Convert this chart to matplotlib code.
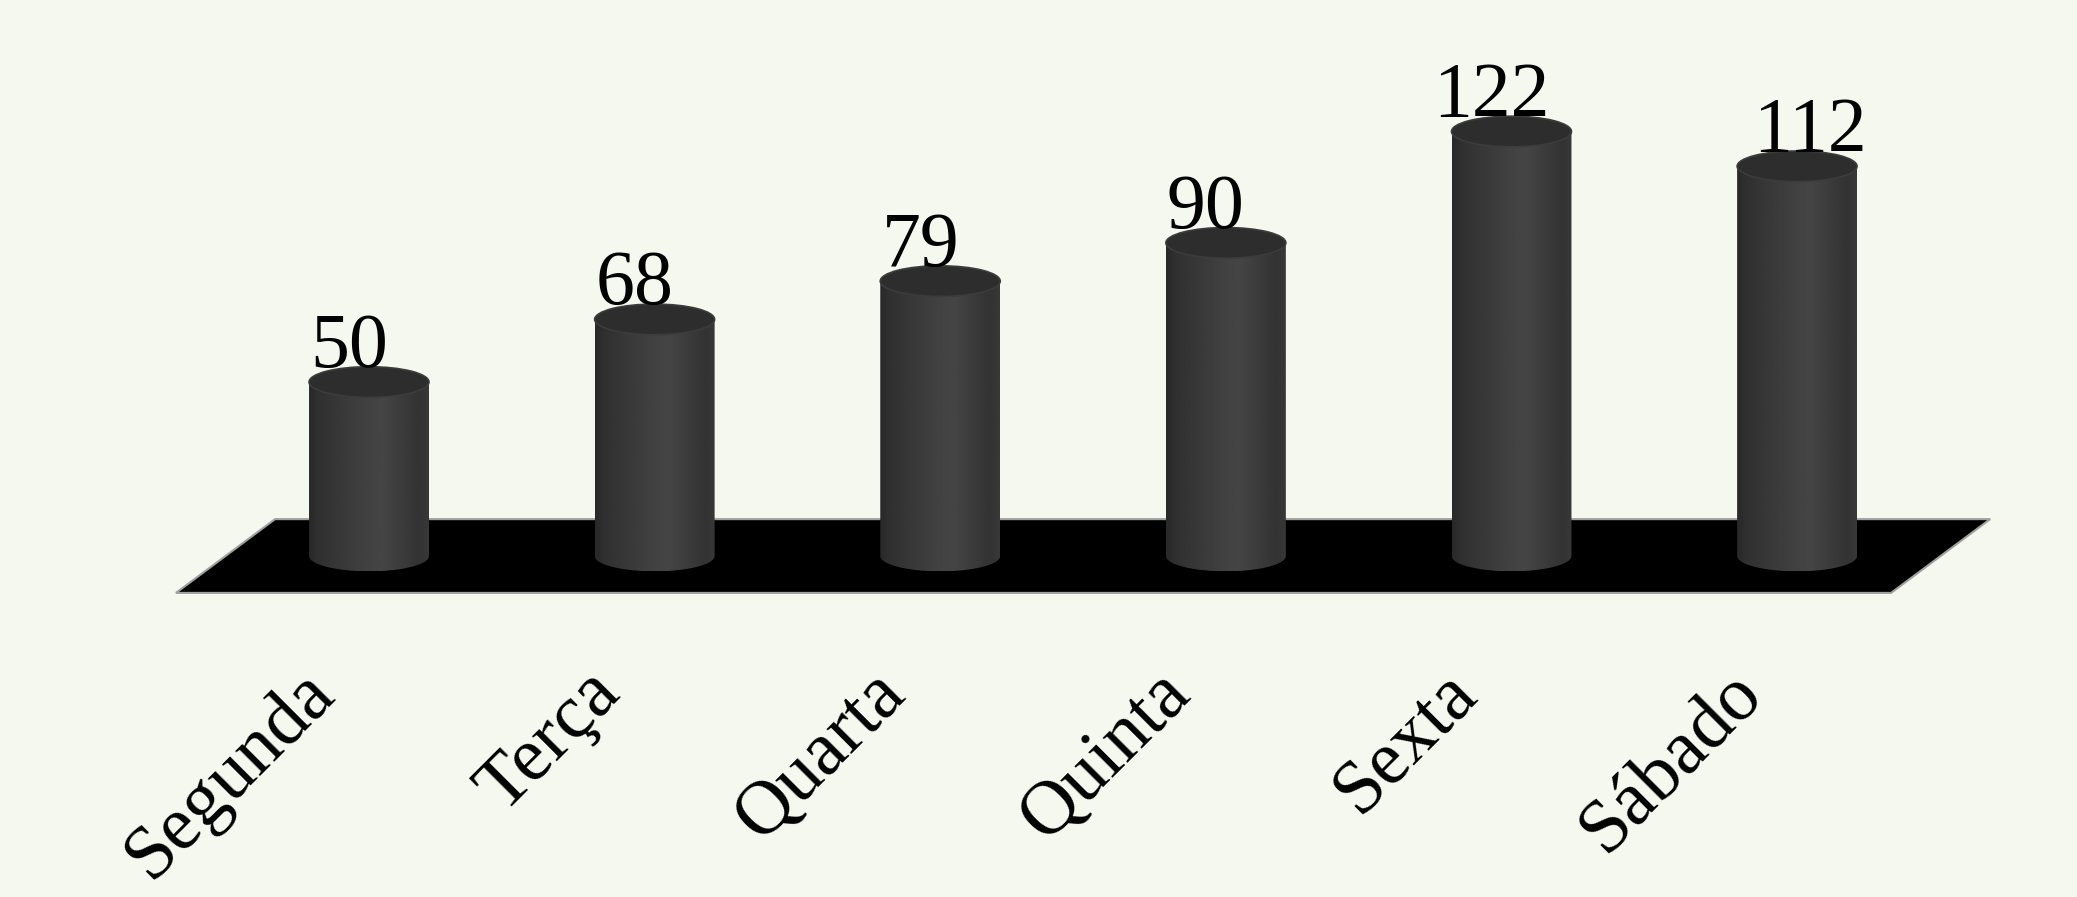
import numpy as np
import matplotlib
matplotlib.use('Agg')
import matplotlib.pyplot as plt
from matplotlib.patches import Polygon, Ellipse, PathPatch
from matplotlib.path import Path

dias = ['Segunda', 'Terça', 'Quarta', 'Quinta', 'Sexta', 'Sábado']
valores = [50, 68, 79, 90, 122, 112]

plt.rcParams['font.family'] = ['Liberation Serif', 'DejaVu Serif']

bg = '#f5f8ee'
fig = plt.figure(figsize=(20.77, 8.97), dpi=100, facecolor=bg)
ax = fig.add_axes([0, 0, 1, 1])
ax.set_facecolor(bg)
ax.set_xlim(-1.292, 5.980)
ax.set_ylim(-98.0, 159.8)
ax.axis('off')

# chao (floor)
piso = Polygon([(-0.676, -10.6), (5.329, -10.6), (5.676, 10.6), (-0.329, 10.6)],
               closed=True, facecolor='black', edgecolor='#a0a0a0', lw=1.5, zorder=1)
ax.add_patch(piso)

w = 0.42      # largura do cilindro
eh = 4.4      # meia altura da elipse

# gradiente horizontal do corpo
t = np.linspace(0, 1, 200)
lv = np.interp(t, [0, 0.08, 0.5, 0.62, 0.92, 1], [0.16, 0.19, 0.26, 0.27, 0.2, 0.22])
grad = np.tile(lv, (2, 1))

for i, v in enumerate(valores):
    x0, x1 = i - w / 2, i + w / 2
    ang = np.linspace(np.pi, 2 * np.pi, 60)
    arc = np.column_stack([i + w / 2 * np.cos(ang), eh * np.sin(ang)])
    verts = np.vstack([[(x0, v)], arc, [(x1, v)], [(x0, v)]])
    codes = [Path.MOVETO] + [Path.LINETO] * (len(verts) - 2) + [Path.CLOSEPOLY]
    corpo = PathPatch(Path(verts, codes), facecolor='none', edgecolor='none', zorder=3)
    ax.add_patch(corpo)
    im = ax.imshow(grad, extent=[x0, x1, -eh, v], cmap='gray', vmin=0, vmax=1,
                   aspect='auto', zorder=3, interpolation='bilinear')
    im.set_clip_path(corpo)
    topo = Ellipse((i, v), w, 2 * eh, facecolor='#2d2d2d', edgecolor='#3c3c3c',
                   lw=1.2, zorder=4)
    ax.add_patch(topo)
    # o ultimo rotulo fica deslocado para a direita no original
    dx = 0.045 if i == len(valores) - 1 else -0.07
    ax.text(i + dx, v + eh, str(v), ha='center', va='baseline',
            fontsize=56, color='black', zorder=5)
    ax.text(i - 0.115, -40, dias[i], rotation=45, rotation_mode='anchor',
            ha='right', va='baseline', fontsize=55, color='black')

fig.savefig('out.png', dpi=100, facecolor=bg)
